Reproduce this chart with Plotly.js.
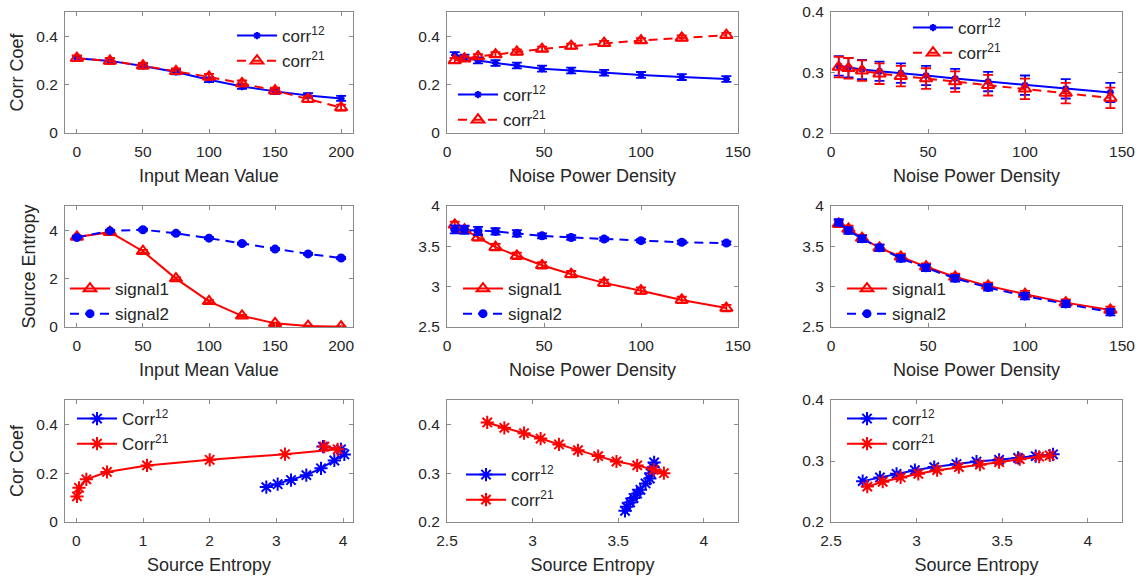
<!DOCTYPE html>
<html>
<head>
<meta charset="utf-8">
<script src="https://cdn.plot.ly/plotly-3.0.1.min.js"></script>
<style>html,body{margin:0;padding:0;background:#fff;}#chart{width:1141px;height:578px;}</style>
</head>
<body>
<div id="chart"></div>
<script>
// ---------------- DATA ----------------
const inputMean = [0, 25, 50, 75, 100, 125, 150, 175, 200];
const noisePSD = [4, 9, 16, 25, 36, 49, 64, 81, 100, 121, 144];

// column A: vs input mean value
const corr12A = [0.309, 0.298, 0.277, 0.252, 0.220, 0.192, 0.172, 0.155, 0.143];
const corr21A = [0.309, 0.298, 0.278, 0.255, 0.232, 0.205, 0.175, 0.140, 0.105];
const corr12AErr = [0.010, 0.010, 0.010, 0.010, 0.010, 0.010, 0.010, 0.010, 0.010];
const corr21AErr = [0.012, 0.012, 0.012, 0.012, 0.012, 0.012, 0.012, 0.012, 0.012];
const signal1A = [3.72, 3.92, 3.13, 2.00, 1.06, 0.46, 0.15, 0.04, 0.01];
const signal2A = [3.70, 3.97, 4.02, 3.87, 3.67, 3.45, 3.22, 3.02, 2.85];
const signal1AErr = [0.06, 0.06, 0.06, 0.05, 0.05, 0.04, 0.03, 0.02, 0.02];
const signal2AErr = [0.04, 0.04, 0.04, 0.04, 0.04, 0.04, 0.04, 0.04, 0.04];

// column B: vs noise power density
const corr12B = [0.322, 0.312, 0.300, 0.289, 0.279, 0.266, 0.258, 0.249, 0.240, 0.231, 0.223];
const corr21B = [0.300, 0.307, 0.316, 0.324, 0.335, 0.347, 0.359, 0.371, 0.382, 0.393, 0.404];
const corr12BErr = [0.012, 0.012, 0.012, 0.012, 0.012, 0.012, 0.012, 0.012, 0.012, 0.012, 0.012];
const corr21BErr = [0.010, 0.010, 0.010, 0.010, 0.010, 0.010, 0.010, 0.010, 0.010, 0.010, 0.010];
const signal1B = [3.767, 3.708, 3.611, 3.490, 3.383, 3.265, 3.154, 3.047, 2.950, 2.835, 2.735];
const signal2B = [3.710, 3.705, 3.690, 3.685, 3.660, 3.630, 3.610, 3.590, 3.570, 3.550, 3.540];
const signal1BErr = [0.04, 0.04, 0.04, 0.04, 0.04, 0.04, 0.04, 0.04, 0.04, 0.04, 0.04];
const signal2BErr = [0.05, 0.05, 0.05, 0.04, 0.04, 0.03, 0.03, 0.02, 0.02, 0.02, 0.02];

// column C: vs noise power density
const corr12C = [0.311, 0.308, 0.305, 0.302, 0.299, 0.295, 0.290, 0.285, 0.279, 0.273, 0.267];
const corr21C = [0.309, 0.307, 0.303, 0.298, 0.294, 0.290, 0.285, 0.279, 0.273, 0.266, 0.258];
const corr12CErr = [0.016, 0.016, 0.016, 0.016, 0.016, 0.016, 0.016, 0.016, 0.016, 0.016, 0.016];
const corr21CErr = [0.017, 0.017, 0.017, 0.017, 0.017, 0.017, 0.017, 0.017, 0.017, 0.017, 0.017];
const signal1C = [3.778, 3.716, 3.603, 3.482, 3.370, 3.247, 3.120, 3.010, 2.907, 2.802, 2.712];
const signal2C = [3.797, 3.696, 3.593, 3.482, 3.350, 3.233, 3.103, 2.990, 2.883, 2.786, 2.685];
const signal1CErr = [0.04, 0.04, 0.04, 0.04, 0.04, 0.04, 0.04, 0.04, 0.04, 0.04, 0.04];
const signal2CErr = [0.04, 0.04, 0.04, 0.04, 0.04, 0.04, 0.04, 0.04, 0.04, 0.04, 0.04];

// labels
const xTitles = ["Input Mean Value", "Noise Power Density", "Noise Power Density",
                 "Input Mean Value", "Noise Power Density", "Noise Power Density",
                 "Source Entropy", "Source Entropy", "Source Entropy"];
const yTitles = ["Corr Coef", "", "", "Source Entropy", "", "", "Cor Coef", "", ""];
const corrNamesTop = ["corr<sup>12</sup>", "corr<sup>21</sup>"];
const corrNamesBottomA = ["Corr<sup>12</sup>", "Corr<sup>21</sup>"];
const signalNames = ["signal1", "signal2"];
const xTicks = [[0,50,100,150,200],[0,50,100,150],[0,50,100,150],
                [0,50,100,150,200],[0,50,100,150],[0,50,100,150],
                [0,1,2,3,4],[2.5,3,3.5,4],[2.5,3,3.5,4]];
const yTicks = [[0,0.2,0.4],[0,0.2,0.4],[0.2,0.3,0.4],
                [0,2,4],[2.5,3,3.5,4],[2.5,3,3.5,4],
                [0,0.2,0.4],[0.2,0.3,0.4],[0.2,0.3,0.4]];

// ---------------- LAYOUT / STYLE ----------------
const W = 1141, H = 578;
const BLUE = '#0000FF', RED = '#FF0000', TXT = '#262626', BOX = '#8a8a8a';
const colPx = [[65, 353], [447, 738], [831, 1122]];
const rowPx = [[12, 133], [206, 327], [400, 522]];
const xRanges = [[-9, 209], [0, 150], [0, 150], [-9, 209], [0, 150], [0, 150], [-0.17, 4.15], [2.5, 4.2], [2.5, 4.2]];
const yRanges = [[0, 0.5], [0, 0.5], [0.2, 0.4], [0, 5], [2.5, 4], [2.5, 4], [0, 0.5], [0.2, 0.45], [0.2, 0.4]];
const legendPos = [[237, 34], [458, 93], [913, 26], [70, 287], [463, 287], [847, 287], [77, 417], [466, 473], [847, 417]];

const layout = {
  width: W, height: H, margin: {l: 0, r: 0, t: 0, b: 0},
  paper_bgcolor: '#fff', plot_bgcolor: '#fff', showlegend: true,
  font: {family: 'Liberation Sans, Arial, sans-serif', color: TXT}
};

for (let i = 0; i < 9; i++) {
  const r = Math.floor(i / 3), c = i % 3;
  const sfx = i === 0 ? '' : String(i + 1);
  const xa = {
    domain: [colPx[c][0] / W, colPx[c][1] / W],
    anchor: 'y' + sfx, range: xRanges[i], tickvals: xTicks[i],
    showline: true, mirror: 'ticks', linecolor: BOX, linewidth: 1,
    ticks: 'inside', ticklen: 4, tickcolor: BOX, showgrid: false, zeroline: false,
    ticklabelstandoff: 4,
    tickfont: {size: 15.5, color: TXT},
    title: {text: xTitles[i], font: {size: 18, color: TXT}, standoff: 10}
  };
  const ya = {
    domain: [1 - rowPx[r][1] / H, 1 - rowPx[r][0] / H],
    anchor: 'x' + sfx, range: yRanges[i], tickvals: yTicks[i],
    showline: true, mirror: 'ticks', linecolor: BOX, linewidth: 1,
    ticks: 'inside', ticklen: 4, tickcolor: BOX, showgrid: false, zeroline: false,
    ticklabelstandoff: 3,
    tickfont: {size: 15.5, color: TXT}
  };
  if (yTitles[i]) ya.title = {text: yTitles[i], font: {size: 18, color: TXT}, standoff: 8};
  layout['xaxis' + sfx] = xa;
  layout['yaxis' + sfx] = ya;
  layout['legend' + sfx] = {
    x: (legendPos[i][0] - 5) / W, y: 1 - (legendPos[i][1] - 16) / H,
    xanchor: 'left', yanchor: 'top', bgcolor: 'rgba(0,0,0,0)', borderwidth: 0,
    font: {size: 17, color: TXT}, tracegroupgap: 0, itemwidth: 40
  };
}

function tr(i, x, y, err, name, color, dash, symbol, msize) {
  const sfx = i === 0 ? '' : String(i + 1);
  const t = {
    type: 'scatter', mode: 'lines+markers', x: x, y: y, name: name,
    xaxis: 'x' + sfx, yaxis: 'y' + sfx, legend: 'legend' + sfx,
    line: {color: color, width: 2, dash: dash},
    marker: {symbol: symbol, size: msize, color: color, line: {color: color, width: 2}},
    hoverinfo: 'x+y'
  };
  if (err) t.error_y = {type: 'data', array: err, visible: true, color: color, thickness: 1.8, width: 5};
  return t;
}
const DASH = '9px,6px';
const data = [
  // row 1
  tr(0, inputMean, corr12A, corr12AErr, corrNamesTop[0], BLUE, 'solid', 'asterisk-open', 6),
  tr(0, inputMean, corr21A, corr21AErr, corrNamesTop[1], RED, DASH, 'triangle-up-open', 11),
  tr(1, noisePSD, corr12B, corr12BErr, corrNamesTop[0], BLUE, 'solid', 'asterisk-open', 6),
  tr(1, noisePSD, corr21B, corr21BErr, corrNamesTop[1], RED, DASH, 'triangle-up-open', 11),
  tr(2, noisePSD, corr12C, corr12CErr, corrNamesTop[0], BLUE, 'solid', 'asterisk-open', 6),
  tr(2, noisePSD, corr21C, corr21CErr, corrNamesTop[1], RED, DASH, 'triangle-up-open', 11),
  // row 2
  tr(3, inputMean, signal1A, signal1AErr, signalNames[0], RED, 'solid', 'triangle-up-open', 11),
  tr(3, inputMean, signal2A, signal2AErr, signalNames[1], BLUE, DASH, 'circle', 7),
  tr(4, noisePSD, signal1B, signal1BErr, signalNames[0], RED, 'solid', 'triangle-up-open', 11),
  tr(4, noisePSD, signal2B, signal2BErr, signalNames[1], BLUE, DASH, 'circle', 7),
  tr(5, noisePSD, signal1C, signal1CErr, signalNames[0], RED, 'solid', 'triangle-up-open', 11),
  tr(5, noisePSD, signal2C, signal2CErr, signalNames[1], BLUE, DASH, 'circle', 7),
  // row 3
  tr(6, signal2A, corr12A, null, corrNamesBottomA[0], BLUE, 'solid', 'asterisk-open', 11),
  tr(6, signal1A, corr21A, null, corrNamesBottomA[1], RED, 'solid', 'asterisk-open', 11),
  tr(7, signal2B, corr12B, null, corrNamesTop[0], BLUE, 'solid', 'asterisk-open', 11),
  tr(7, signal1B, corr21B, null, corrNamesTop[1], RED, 'solid', 'asterisk-open', 11),
  tr(8, signal2C, corr12C, null, corrNamesTop[0], BLUE, 'solid', 'asterisk-open', 11),
  tr(8, signal1C, corr21C, null, corrNamesTop[1], RED, 'solid', 'asterisk-open', 11)
];

Plotly.newPlot('chart', data, layout, {displayModeBar: false, staticPlot: true});
</script>
</body>
</html>
